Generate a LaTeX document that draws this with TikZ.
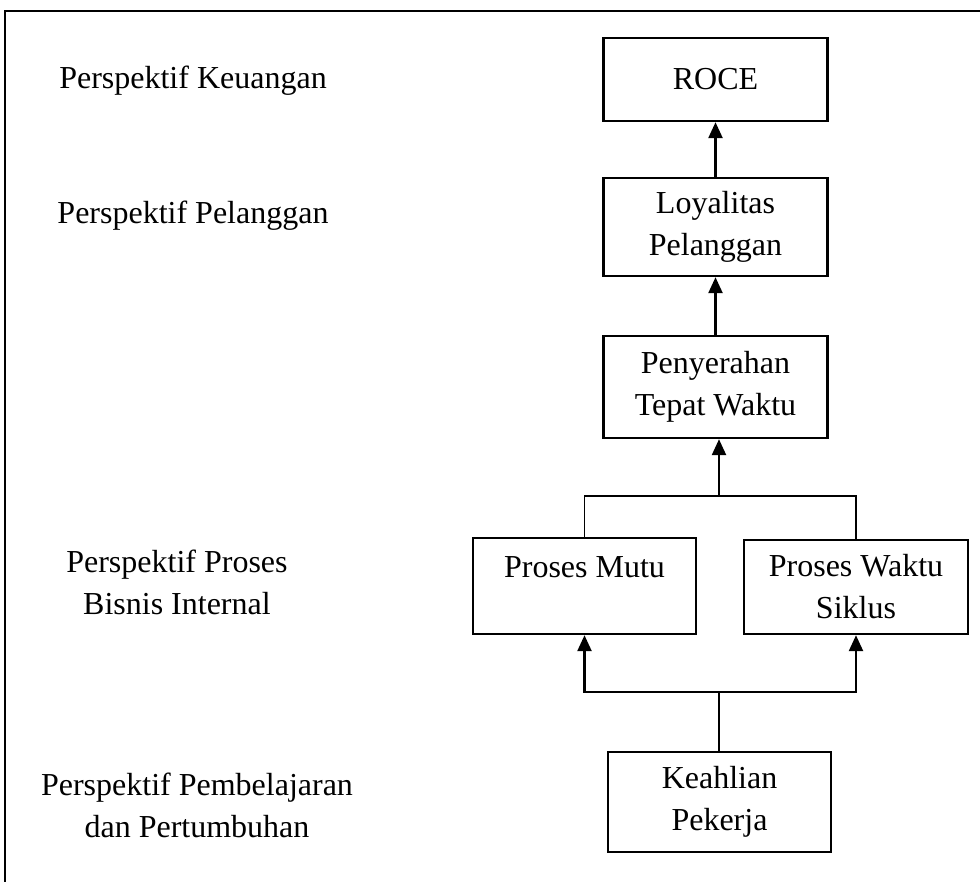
\documentclass[tikz,border=0pt]{standalone}
\usepackage{fontspec}
\setmainfont{Liberation Serif}
\usetikzlibrary{arrows.meta}

\tikzset{
  kotak/.style={draw, line width=1.2pt, minimum width=112pt, align=center,
                font=\fontsize{16}{21}\selectfont},
  ket/.style={align=center, font=\fontsize{16}{21}\selectfont},
  garis/.style={line width=0.8pt},
  panah/.style={line width=1.2pt, -{Triangle[width=7pt,length=8pt]}}
}

\begin{document}
\begin{tikzpicture}[x=0.5pt, y=-0.5pt]
\useasboundingbox (0, 0) rectangle (980, 882);

%% bingkai
\draw[line width=1pt] (5, 882) -- (5, 11) -- (980, 11);

%% keterangan perspektif
\node[ket] (kKeu) at (193, 81) {Perspektif Keuangan};
\node[ket] (kPel) at (193, 216) {Perspektif Pelanggan};
\node[ket] (kPro) at (177, 582) {Perspektif Proses\\Bisnis Internal};
\node[ket] (kBel) at (197, 805) {Perspektif Pembelajaran\\dan Pertumbuhan};

%% kotak
\node[kotak, minimum height=41.5pt] (roce) at (715.5, 79.5) {ROCE};
\node[kotak, minimum height=49pt] (loyal) at (715.5, 227) {Loyalitas\\Pelanggan};
\node[kotak, minimum height=51pt] (serah) at (715.5, 387) {Penyerahan\\Tepat Waktu};
\node[kotak, minimum height=48pt, minimum width=111.5pt, text depth=19pt]
  (mutu) at (584.5, 586) {Proses Mutu};
\node[kotak, minimum height=47pt] (siklus) at (856, 587) {Proses Waktu\\Siklus};
\node[kotak, minimum height=50pt, minimum width=111.5pt] (ahli) at (719.5, 802)
  {Keahlian\\Pekerja};

\coordinate (jAtas) at (719, 496);
\coordinate (jBawah) at (719, 692);

%% penghubung
\draw[panah] (loyal) -- (roce);
\draw[panah] (serah) -- (loyal);
\draw[garis] (mutu.north) |- (jAtas) -| (siklus.north);
\draw[panah] (jAtas) -- (serah.south -| jAtas);
\draw[garis] (ahli.north -| jBawah) -- (jBawah);
\draw[panah] (jBawah) -| (mutu.south);
\draw[panah] (jBawah) -| (siklus.south);
\end{tikzpicture}
\end{document}
